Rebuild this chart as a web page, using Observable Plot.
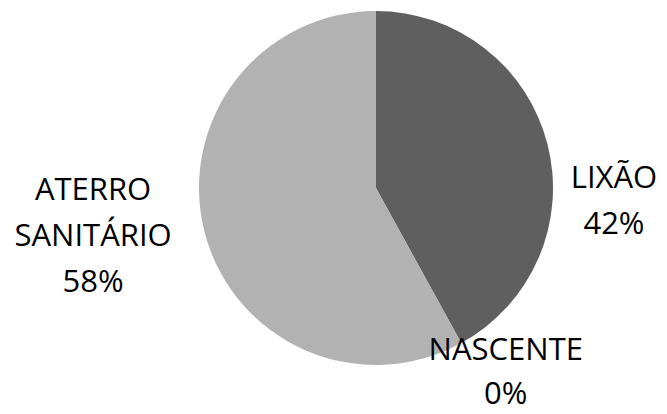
<!DOCTYPE html>
<html>
<head>
<meta charset="utf-8">
<script src="https://cdn.jsdelivr.net/npm/d3@7"></script>
<script src="https://cdn.jsdelivr.net/npm/@observablehq/plot@0.6"></script>
<style>
  html, body { margin: 0; padding: 0; background: #fff; }
  #chart svg { display: block; }
</style>
</head>
<body>
<div id="chart"></div>
<script>
// Data
const categories = ["LIXÃO", "NASCENTE", "ATERRO SANITÁRIO"];
const labelLines = ["LIXÃO", "NASCENTE", "ATERRO\nSANITÁRIO"];
const values = [42, 0, 58];
const colors = ["#5f5f5f", "#8c8c8c", "#b2b2b2"];

// Label layout nudges (pixels) from the slice's outer-edge midpoint
const labelNudgeX = [66, 44, -112];
const labelNudgeY = [52, 24, -1];

const total = d3.sum(values);
const pie = d3.pie().sort(null).value(d => d.value).startAngle(0).endAngle(2 * Math.PI);
const rows = categories.map((c, i) => ({cat: c, value: values[i], label: labelLines[i], i}));
const arcs = pie(rows);

const labels = arcs.map(a => {
  const mid = (a.startAngle + a.endAngle) / 2;
  return {
    x: Math.sin(mid),
    y: Math.cos(mid),
    text: `${a.data.label}\n${Math.round(a.data.value / total * 100)}%`,
    dx: labelNudgeX[a.data.i],
    dy: labelNudgeY[a.data.i],
    lh: a.data.i === 1 ? 1.42 : 1.49
  };
});

const colorOf = d3.scaleOrdinal().domain(categories).range(colors);

function pieMark(index, scales, vals, dimensions, context) {
  const cx = scales.x(0), cy = scales.y(0);
  const r = scales.x(1) - scales.x(0);
  const arcGen = d3.arc().innerRadius(0).outerRadius(r);
  const g = d3.create("svg:g").attr("transform", `translate(${cx},${cy})`);
  g.selectAll("path")
    .data(arcs)
    .join("path")
    .attr("d", arcGen)
    .attr("fill", d => colorOf(d.data.cat));
  return g.node();
}

const chart = Plot.plot({
  width: 667,
  height: 414,
  marginLeft: 199,
  marginRight: 114,
  marginTop: 11,
  marginBottom: 49,
  x: {domain: [-1, 1], axis: null},
  y: {domain: [-1, 1], axis: null},
  style: {fontFamily: "'Open Sans', sans-serif", background: "#fff"},
  marks: [
    pieMark,
    ...labels.map(l => Plot.text([l], {
      x: "x", y: "y", text: "text",
      dx: l.dx, dy: l.dy,
      fontSize: 31,
      lineHeight: l.lh,
      lineAnchor: "middle",
      textAnchor: "middle",
      fill: "#000"
    }))
  ]
});
document.getElementById("chart").appendChild(chart);
</script>
</body>
</html>
